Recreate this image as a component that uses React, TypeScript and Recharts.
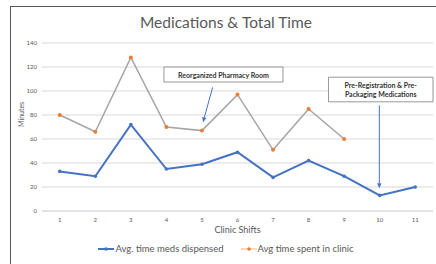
import React from 'react';
import { LineChart, Line, XAxis, YAxis, CartesianGrid, ReferenceLine, ReferenceArea } from 'recharts';

const shifts = [1, 2, 3, 4, 5, 6, 7, 8, 9, 10, 11];
const medsDispensed = [33, 29, 72, 35, 39, 49, 28, 42, 29, 13, 20];
const timeInClinic: (number | null)[] = [80, 66, 128, 70, 67, 97, 51, 85, 60, null, null];
const yTicks = [0, 20, 40, 60, 80, 100, 120, 140];

const data = shifts.map((s, i) => ({ shift: s, meds: medsDispensed[i], clinic: timeInClinic[i] }));

const FONT = 'Lato, "Open Sans", sans-serif';
const TEXT = '#595959';

const ArrowShape = (props: any) => {
  const { x1, y1, x2, y2, stroke } = props;
  const ang = Math.atan2(y2 - y1, x2 - x1);
  const len = 5;
  const w = 2.2;
  const bx = x2 - len * Math.cos(ang);
  const by = y2 - len * Math.sin(ang);
  const px = -Math.sin(ang) * w;
  const py = Math.cos(ang) * w;
  return (
    <g>
      <line x1={x1} y1={y1} x2={bx} y2={by} stroke={stroke} strokeWidth={1} />
      <polygon points={`${x2},${y2} ${bx + px},${by + py} ${bx - px},${by - py}`} fill={stroke} />
    </g>
  );
};

const boxLabel = (lines: string[]) => (props: any) => {
  const vb = props.viewBox;
  const cx = vb.x + vb.width / 2;
  const cy = vb.y + vb.height / 2;
  const lh = 9;
  const start = cy - ((lines.length - 1) * lh) / 2;
  return (
    <text x={cx} y={start} textAnchor="middle" fontFamily={FONT} fontSize={7} fontWeight={700} fill="#333">
      {lines.map((l, i) => (
        <tspan key={i} x={cx} y={start + i * lh} dominantBaseline="central">
          {l}
        </tspan>
      ))}
    </text>
  );
};

export default function App() {
  return (
    <div style={{ position: 'absolute', left: 0, top: 0, width: 436, height: 264, overflow: 'hidden', background: '#fff', fontFamily: FONT }}>
      <div style={{ position: 'absolute', left: 10, top: 6, width: 460, height: 300, border: '1.5px solid #595959', boxSizing: 'border-box' }} />
      <div style={{ position: 'absolute', left: 0, top: 13, width: 452, textAlign: 'center', fontSize: 15.5, color: TEXT }}>
        Medications &amp; Total Time
      </div>
      <div style={{ position: 'absolute', left: 0, top: 0 }}>
        <LineChart width={436} height={264} data={data} margin={{ top: 43, right: 3, left: 0, bottom: 0 }}>
          <CartesianGrid vertical={false} stroke="#d9d9d9" strokeWidth={1} />
          <XAxis
            dataKey="shift"
            type="number"
            domain={[0.5, 11.5]}
            ticks={shifts}
            height={53}
            tickLine={false}
            axisLine={{ stroke: '#d9d9d9' }}
            tickSize={0}
            tickMargin={7}
            tick={{ fontSize: 6, fill: TEXT, fontFamily: FONT }}
            label={{ value: 'Clinic Shifts', position: 'insideTop', offset: 16, fontSize: 9, fill: TEXT, fontFamily: FONT }}
          />
          <YAxis
            domain={[0, 140]}
            ticks={yTicks}
            width={42}
            tickLine={false}
            axisLine={false}
            tickSize={0}
            tickMargin={5}
            tick={{ fontSize: 6, fill: TEXT, fontFamily: FONT }}
            label={{ value: 'Minutes', angle: -90, position: 'insideLeft', offset: 22, fontSize: 7, fill: TEXT, fontFamily: FONT }}
          />
          <Line
            dataKey="clinic"
            stroke="#a5a5a5"
            strokeWidth={1.5}
            dot={{ r: 2, fill: '#ed7d31', stroke: '#ed7d31', strokeWidth: 0 }}
            isAnimationActive={false}
            connectNulls={false}
          />
          <Line
            dataKey="meds"
            stroke="#4472c4"
            strokeWidth={2}
            dot={{ r: 1.8, fill: '#4472c4', stroke: '#4472c4', strokeWidth: 0 }}
            isAnimationActive={false}
          />
          <ReferenceLine
            segment={[{ x: 5.3, y: 103 }, { x: 5.03, y: 74 }]}
            stroke="#4472c4"
            shape={ArrowShape}
            ifOverflow="visible"
          />
          <ReferenceLine
            segment={[{ x: 9.99, y: 88 }, { x: 9.99, y: 19 }]}
            stroke="#4472c4"
            shape={ArrowShape}
            ifOverflow="visible"
          />
          <ReferenceArea
            x1={3.93}
            x2={7.28}
            y1={107.5}
            y2={120}
            fill="#fff"
            fillOpacity={1}
            stroke="#7f7f7f"
            strokeWidth={0.8}
            ifOverflow="visible"
            label={boxLabel(['Reorganized Pharmacy Room'])}
          />
          <ReferenceArea
            x1={8.56}
            x2={11.5}
            y1={91}
            y2={111.5}
            fill="#fff"
            fillOpacity={1}
            stroke="#7f7f7f"
            strokeWidth={0.8}
            ifOverflow="visible"
            label={boxLabel(['Pre-Registration & Pre-', 'Packaging Medications'])}
          />
        </LineChart>
      </div>
      <div style={{ position: 'absolute', left: 0, top: 243, width: 452, display: 'flex', justifyContent: 'center', alignItems: 'center', fontSize: 9.5, color: TEXT }}>
        <svg width={16} height={8} style={{ marginRight: 1 }}>
          <line x1={0} y1={4} x2={16} y2={4} stroke="#4472c4" strokeWidth={2} />
          <circle cx={8} cy={4} r={1.8} fill="#4472c4" />
        </svg>
        <span style={{ marginRight: 17 }}>Avg. time meds dispensed</span>
        <svg width={16} height={8} style={{ marginRight: 1 }}>
          <line x1={0} y1={4} x2={16} y2={4} stroke="#ed7d31" strokeWidth={1} strokeOpacity={0.6} />
          <circle cx={8} cy={4} r={1.8} fill="#ed7d31" />
        </svg>
        <span>Avg time spent in clinic</span>
      </div>
    </div>
  );
}
